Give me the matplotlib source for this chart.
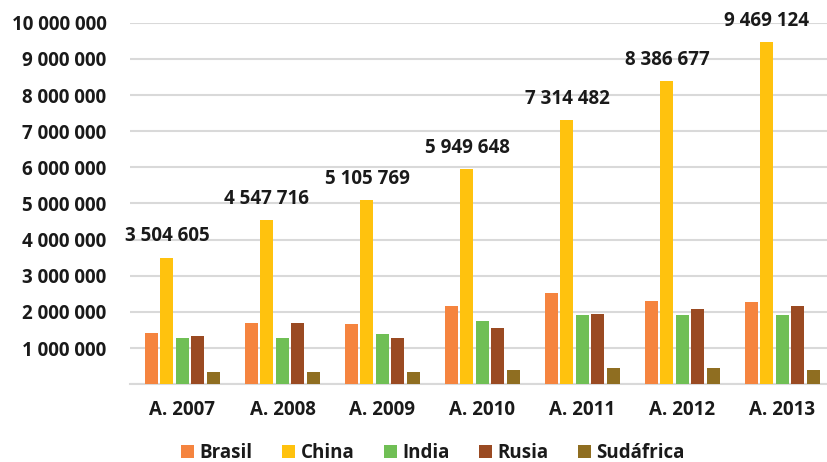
import matplotlib
matplotlib.use("Agg")
import matplotlib.pyplot as plt
import numpy as np

categories = ["A. 2007", "A. 2008", "A. 2009", "A. 2010", "A. 2011", "A. 2012", "A. 2013"]
series_names = ["Brasil", "China", "India", "Rusia", "Sudáfrica"]
brasil = [1420000, 1700000, 1670000, 2170000, 2530000, 2300000, 2280000]
china = [3504605, 4547716, 5105769, 5949648, 7314482, 8386677, 9469124]
india = [1280000, 1280000, 1390000, 1750000, 1920000, 1920000, 1920000]
rusia = [1340000, 1700000, 1280000, 1560000, 1940000, 2080000, 2170000]
sudafrica = [340000, 340000, 340000, 400000, 450000, 450000, 400000]
colors = ["#F5843F", "#FFC20E", "#70BF55", "#9A4A22", "#8F6E21"]

ytick_vals = [0, 1000000, 2000000, 3000000, 4000000, 5000000, 6000000, 7000000, 8000000, 9000000, 10000000]

def fmt(v):
    return "" if v == 0 else f"{int(v):,}".replace(",", " ")

plt.rcParams['font.family'] = ['Open Sans', 'DejaVu Sans']

fig = plt.figure(figsize=(8.28, 4.62), dpi=100)
ax = fig.add_axes([130/828, 1 - 384.3/462, 698/828, (384.3 - 22.7)/462])

data = [brasil, china, india, rusia, sudafrica]
x = np.arange(len(categories))
step = 0.155
width = 0.13
FS = 13.5
for i, (name, vals, c) in enumerate(zip(series_names, data, colors)):
    off = (i - 2) * step
    ax.bar(x + off, vals, width=width, color=c, label=name, zorder=3)
    if name == "China":
        for xi, v in zip(x + off, vals):
            ax.annotate(fmt(v), (xi, v), xytext=(0, 8), textcoords="offset points",
                        ha="center", va="bottom", fontsize=FS, fontweight="bold",
                        color="#1a1a1a", zorder=4)

ax.set_xlim(-0.525, 6.455)
ax.set_ylim(0, 10000000)
ax.set_yticks(ytick_vals)
ax.set_yticklabels([fmt(v) for v in ytick_vals])
ax.set_xticks(x)
ax.set_xticklabels(categories)
ax.grid(axis="y", color="#D9D9D9", linewidth=1.5, zorder=0)
ax.set_axisbelow(True)
for s in ["top", "right", "left"]:
    ax.spines[s].set_visible(False)
ax.spines["bottom"].set_color("#D9D9D9")
ax.spines["bottom"].set_linewidth(1.5)
ax.tick_params(axis="both", length=0)
ax.tick_params(axis="y", pad=17)
ax.tick_params(axis="x", pad=11)
for lab in ax.get_yticklabels() + ax.get_xticklabels():
    lab.set_fontsize(FS)
    lab.set_fontweight("bold")
    lab.set_color("#1a1a1a")

leg = fig.legend(loc="center", bbox_to_anchor=(433/828, 1 - 453/462), ncol=5, frameon=False,
                 fontsize=FS, handlelength=0.7, handleheight=0.7, handletextpad=0.3,
                 columnspacing=1.55, borderaxespad=0)
for t in leg.get_texts():
    t.set_fontweight("bold")
    t.set_color("#1a1a1a")

fig.savefig("out.png", dpi=100)
